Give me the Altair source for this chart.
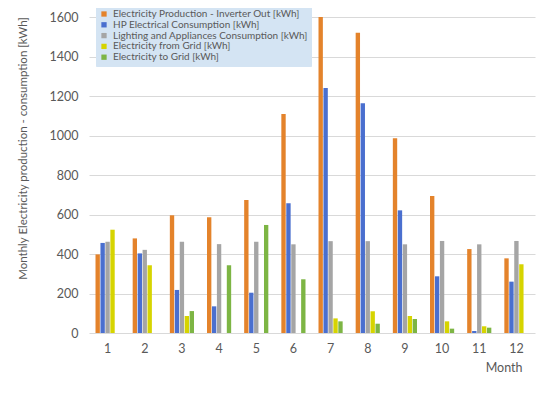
import altair as alt
import pandas as pd

months = [1, 2, 3, 4, 5, 6, 7, 8, 9, 10, 11, 12]
series_names = [
    "Electricity Production - Inverter Out [kWh]",
    "HP Electrical Consumption [kWh]",
    "Lighting and Appliances Consumption [kWh]",
    "Electricity from Grid [kWh]",
    "Electricity to Grid [kWh]",
]
production = [398, 479, 596, 586, 673, 1109, 1600, 1520, 986, 694, 425, 378]
hp_consumption = [456, 403, 218, 135, 204, 657, 1240, 1163, 621, 287, 10, 260]
lighting = [462, 421, 462, 450, 462, 449, 465, 465, 449, 466, 449, 466]
from_grid = [523, 343, 86, 0, 0, 0, 74, 110, 86, 59, 34, 348]
to_grid = [0, 0, 111, 343, 547, 272, 59, 47, 71, 22, 27, 0]
colors = ["#E4832B", "#4A6FCF", "#A5A5A5", "#D6D400", "#7DB544"]

rows = []
for name, vals in zip(series_names, [production, hp_consumption, lighting, from_grid, to_grid]):
    for m, v in zip(months, vals):
        rows.append({"Month": m, "Series": name, "Value": v})
df = pd.DataFrame(rows)

FONT = "Lato"
GRAY = "#595959"

chart = alt.Chart(df).mark_bar().encode(
    x=alt.X(
        "Month:O",
        scale=alt.Scale(paddingInner=0.35, paddingOuter=0.175),
        axis=alt.Axis(
            title="Month", labelAngle=0, ticks=False, domain=False,
            labelPadding=9, labelFontSize=12.5, labelColor=GRAY, labelFont=FONT,
            titleFont=FONT, titleFontSize=12.5, titleColor=GRAY, titleFontWeight="normal",
            titleX=433, titleY=34, titleAlign="right", titleBaseline="middle",
        ),
    ),
    xOffset=alt.XOffset("Series:N", sort=series_names, scale=alt.Scale(paddingInner=0.12)),
    y=alt.Y(
        "Value:Q",
        scale=alt.Scale(domain=[0, 1600], nice=False),
        axis=alt.Axis(
            title="Monthly Electricity production - consumption [kWh]",
            values=[0, 200, 400, 600, 800, 1000, 1200, 1400, 1600], format="d",
            ticks=False, domain=False, labelPadding=11, labelFontSize=12.5,
            labelColor=GRAY, labelFont=FONT, grid=True, gridColor="#D9D9D9",
            titleFont=FONT, titleFontSize=11.5, titleColor=GRAY, titleFontWeight="normal",
            titleX=-66, titleY=131, titleAngle=-90, titleAlign="center", titleBaseline="middle",
        ),
    ),
    color=alt.Color(
        "Series:N", sort=series_names,
        scale=alt.Scale(domain=series_names, range=colors),
        legend=alt.Legend(
            title=None, orient="none", legendX=7, legendY=-11,
            symbolType="square", symbolSize=28, symbolStrokeWidth=0, labelOffset=4,
            labelFont=FONT, labelFontSize=10, labelColor=GRAY, labelLimit=400,
            rowPadding=0.8, padding=3, fillColor="#D4E4F3", strokeColor="#D4E4F3",
        ),
    ),
).properties(
    width=446, height=316,
    autosize=alt.AutoSizeParams(type="none"),
    padding={"left": 81, "top": 9, "right": 6, "bottom": 58},
).configure_view(stroke=None)

chart.save("out.html", embed_options={"renderer": "svg", "actions": False})
